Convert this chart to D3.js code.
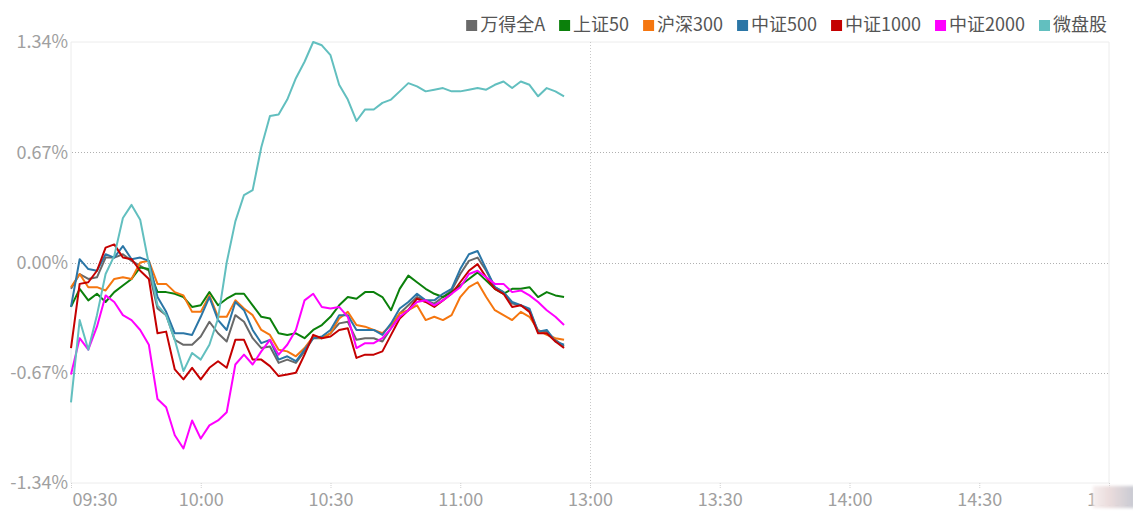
<!DOCTYPE html>
<html><head><meta charset="utf-8">
<script src="https://cdn.jsdelivr.net/npm/d3@7/dist/d3.min.js"></script>
<style>
html,body{margin:0;padding:0;background:#fff;}
svg{display:block;font-family:"Noto Sans CJK SC","Noto Sans",sans-serif;}
</style></head>
<body><svg id="c" width="1133" height="514"></svg>
<script>
const times = ["09:30","09:32","09:34","09:36","09:38","09:40","09:42","09:44","09:46","09:48",
"09:50","09:52","09:54","09:56","09:58","10:00","10:02","10:04","10:06","10:08",
"10:10","10:12","10:14","10:16","10:18","10:20","10:22","10:24","10:26","10:28",
"10:30","10:32","10:34","10:36","10:38","10:40","10:42","10:44","10:46","10:48",
"10:50","10:52","10:54","10:56","10:58","11:00","11:02","11:04","11:06","11:08",
"11:10","11:12","11:14","11:16","11:18","11:20","11:22","11:24"];

const seriesNames = ["万得全A","上证50","沪深300","中证500","中证1000","中证2000","微盘股"];

const wanDeQuanA = [-0.16,-0.07,-0.10,-0.09,0.03,0.03,0.05,0.01,-0.02,-0.05,
-0.28,-0.32,-0.47,-0.50,-0.50,-0.45,-0.36,-0.43,-0.48,-0.32,
-0.36,-0.46,-0.52,-0.51,-0.61,-0.59,-0.61,-0.54,-0.46,-0.46,
-0.43,-0.37,-0.36,-0.47,-0.46,-0.46,-0.48,-0.40,-0.31,-0.26,
-0.21,-0.23,-0.25,-0.21,-0.17,-0.07,0.01,0.03,-0.05,-0.15,
-0.18,-0.25,-0.26,-0.29,-0.42,-0.42,-0.47,-0.51];

const shangZheng50 = [-0.27,-0.16,-0.23,-0.19,-0.24,-0.18,-0.14,-0.10,-0.03,-0.04,
-0.18,-0.18,-0.19,-0.21,-0.27,-0.26,-0.18,-0.26,-0.22,-0.19,
-0.19,-0.26,-0.33,-0.34,-0.43,-0.44,-0.43,-0.46,-0.41,-0.38,
-0.33,-0.26,-0.21,-0.22,-0.18,-0.18,-0.21,-0.29,-0.16,-0.08,
-0.12,-0.16,-0.19,-0.21,-0.18,-0.14,-0.10,-0.06,-0.11,-0.16,
-0.19,-0.16,-0.16,-0.15,-0.21,-0.18,-0.20,-0.21];

const huShen300 = [-0.15,-0.07,-0.15,-0.15,-0.17,-0.10,-0.09,-0.10,0.00,0.01,
-0.13,-0.13,-0.18,-0.20,-0.30,-0.30,-0.20,-0.33,-0.33,-0.23,
-0.28,-0.32,-0.41,-0.44,-0.53,-0.54,-0.57,-0.52,-0.45,-0.46,
-0.43,-0.34,-0.30,-0.38,-0.39,-0.41,-0.43,-0.38,-0.31,-0.29,
-0.26,-0.35,-0.33,-0.35,-0.32,-0.21,-0.15,-0.12,-0.21,-0.29,
-0.32,-0.35,-0.30,-0.33,-0.41,-0.44,-0.46,-0.47];

const zhongZheng500 = [-0.27,0.02,-0.04,-0.05,0.05,0.03,0.10,0.02,0.03,0.01,
-0.21,-0.30,-0.43,-0.43,-0.44,-0.33,-0.21,-0.35,-0.41,-0.24,
-0.29,-0.41,-0.49,-0.47,-0.59,-0.57,-0.60,-0.53,-0.46,-0.45,
-0.41,-0.32,-0.32,-0.41,-0.41,-0.41,-0.44,-0.37,-0.28,-0.24,
-0.19,-0.23,-0.23,-0.19,-0.16,-0.04,0.05,0.07,-0.04,-0.15,
-0.18,-0.24,-0.26,-0.28,-0.42,-0.41,-0.48,-0.50];

const zhongZheng1000 = [-0.52,-0.13,-0.12,-0.05,0.09,0.11,0.03,0.02,-0.05,-0.10,
-0.43,-0.42,-0.65,-0.71,-0.64,-0.71,-0.64,-0.60,-0.64,-0.47,
-0.47,-0.59,-0.59,-0.63,-0.69,-0.68,-0.67,-0.56,-0.44,-0.46,
-0.45,-0.41,-0.40,-0.58,-0.56,-0.56,-0.54,-0.44,-0.34,-0.29,
-0.22,-0.24,-0.27,-0.23,-0.19,-0.12,-0.05,-0.01,-0.09,-0.16,
-0.19,-0.27,-0.26,-0.30,-0.43,-0.43,-0.48,-0.52];

const zhongZheng2000 = [-0.68,-0.46,-0.53,-0.39,-0.20,-0.24,-0.32,-0.35,-0.41,-0.50,
-0.83,-0.88,-1.05,-1.13,-0.96,-1.07,-0.99,-0.96,-0.91,-0.62,
-0.56,-0.62,-0.54,-0.47,-0.56,-0.50,-0.41,-0.23,-0.19,-0.27,
-0.28,-0.27,-0.33,-0.52,-0.49,-0.49,-0.46,-0.40,-0.33,-0.29,
-0.24,-0.23,-0.26,-0.23,-0.19,-0.15,-0.07,-0.05,-0.09,-0.13,
-0.13,-0.18,-0.17,-0.20,-0.24,-0.29,-0.33,-0.38];

const weiPanGu = [-0.85,-0.35,-0.53,-0.32,-0.07,0.04,0.27,0.35,0.26,-0.01,
-0.26,-0.32,-0.47,-0.66,-0.55,-0.59,-0.50,-0.34,0.00,0.25,
0.41,0.44,0.70,0.89,0.90,0.99,1.12,1.22,1.34,1.32,
1.26,1.08,0.99,0.86,0.93,0.93,0.97,0.99,1.04,1.09,
1.07,1.04,1.05,1.06,1.04,1.04,1.05,1.06,1.05,1.08,
1.10,1.06,1.10,1.08,1.01,1.06,1.04,1.01];

const seriesColors = ["#696969","#0b800b","#f5760f","#2b76a6","#c40000","#ff00ff","#62bfbf"];

const xTickLabels = ["09:30","10:00","10:30","11:00","13:00","13:30","14:00","14:30","15:00"];
const yTickValues = [1.34,0.67,0.00,-0.67,-1.34];

const allSeries = [wanDeQuanA,shangZheng50,huShen300,zhongZheng500,zhongZheng1000,zhongZheng2000,weiPanGu];

// trading-minute conversion (lunch break removed)
function tradeMin(s){
  const [h,m] = s.split(":").map(Number);
  const t = h*60+m;
  return t < 12*60 ? t - (9*60+30) : t - 13*60 + 120;
}

const svg = d3.select("#c");
const L = 71, R = 1109, T = 42, B = 483;
const x = d3.scaleLinear().domain([0,240]).range([L,R]);
const y = d3.scaleLinear().domain([-1.34,1.34]).range([B,T]);

// frame lines
svg.append("line").attr("x1",L).attr("x2",R).attr("y1",T).attr("y2",T).attr("stroke","#ececec");
svg.append("line").attr("x1",L).attr("x2",R).attr("y1",B).attr("y2",B).attr("stroke","#ececec");
svg.append("line").attr("x1",L).attr("x2",L).attr("y1",T).attr("y2",B).attr("stroke","#ececec");
svg.append("line").attr("x1",R).attr("x2",R).attr("y1",T).attr("y2",B).attr("stroke","#ececec");

// dotted horizontal grid
svg.append("g").selectAll("line").data(yTickValues.filter(v=>Math.abs(v)<1.3)).join("line")
  .attr("x1",L+1).attr("x2",R).attr("y1",d=>Math.round(y(d))+0.5).attr("y2",d=>Math.round(y(d))+0.5)
  .attr("stroke","#b0b0b0").attr("stroke-dasharray","1,2");

// lunch divider (13:00)
svg.append("line").attr("x1",Math.round(x(tradeMin("13:00")))+0.5).attr("x2",Math.round(x(tradeMin("13:00")))+0.5)
  .attr("y1",T).attr("y2",B).attr("stroke","#c8c8c8").attr("stroke-dasharray","1,2");

// y axis
const yAxis = d3.axisLeft(y).tickValues(yTickValues).tickSize(0).tickPadding(3)
  .tickFormat(d=>d.toFixed(2)+"%");
const gy = svg.append("g").attr("transform",`translate(${L},0)`).call(yAxis);
gy.select(".domain").remove();
gy.selectAll("text").attr("fill","#a0a0a0").style("font-size","18px")
  .style("font-family",'"Noto Sans CJK SC","Noto Sans",sans-serif');

// x axis
const xAxis = d3.axisBottom(x).tickValues(xTickLabels.map(tradeMin))
  .tickFormat((d,i)=>xTickLabels[i]).tickSize(6).tickPadding(4);
const gx = svg.append("g").attr("transform",`translate(0,${B})`).call(xAxis);
gx.select(".domain").remove();
gx.selectAll(".tick line").attr("stroke","#cfcfcf").attr("stroke-dasharray","1,1");
gx.selectAll("text").attr("fill","#a0a0a0").style("font-size","18px")
  .style("font-family",'"Noto Sans CJK SC","Noto Sans",sans-serif');
gx.selectAll(".tick").filter((d,i)=>i===0).select("text").attr("text-anchor","start").attr("dx",1);

// blurred corner patch over last label
const defs = svg.append("defs");
const gr = defs.append("linearGradient").attr("id","blurg");
gr.append("stop").attr("offset","0%").attr("stop-color","#f6eeee");
gr.append("stop").attr("offset","40%").attr("stop-color","#eadcdc");
gr.append("stop").attr("offset","100%").attr("stop-color","#c7c9d2");
defs.append("filter").attr("id","bl").append("feGaussianBlur").attr("stdDeviation",1.5);
svg.append("rect").attr("x",1093).attr("y",486).attr("width",42).attr("height",22)
  .attr("fill","url(#blurg)").attr("filter","url(#bl)");

// lines
const line = d3.line().x((d,i)=>x(tradeMin(times[i]))).y(d=>y(d));
svg.append("g").selectAll("path").data(allSeries).join("path")
  .attr("d",d=>line(d)).attr("fill","none")
  .attr("stroke",(d,i)=>seriesColors[i]).attr("stroke-width",2)
  .attr("stroke-linejoin","round");

// legend (right aligned)
const lg = svg.append("g");
const items = lg.selectAll("g").data(seriesNames).join("g");
items.append("rect").attr("width",11).attr("height",11).attr("y",20)
  .attr("fill",(d,i)=>seriesColors[i]);
items.append("text").text(d=>d).attr("x",14).attr("y",31)
  .attr("fill","#555").style("font-size","18px");
let widths = [];
items.each(function(){ widths.push(14 + d3.select(this).select("text").node().getComputedTextLength()); });
const gap = 14;
const total = d3.sum(widths) + gap*(widths.length-1);
let cx = 1107 - total;
items.attr("transform",(d,i)=>{ const t=`translate(${cx},0)`; cx += widths[i]+gap; return t; });
</script>
</body></html>
